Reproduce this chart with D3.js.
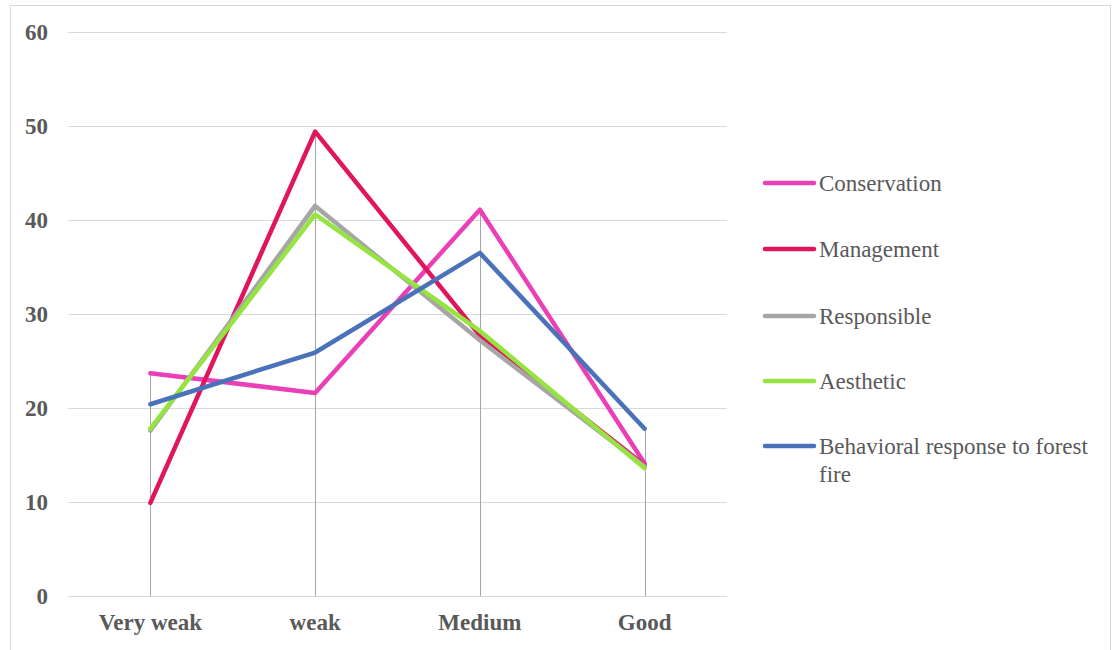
<!DOCTYPE html>
<html>
<head>
<meta charset="utf-8">
<script src="https://cdn.jsdelivr.net/npm/d3@7"></script>
<style>
  html, body { margin: 0; padding: 0; background: #fff; }
  svg { display: block; }
</style>
</head>
<body>
<svg id="chart" width="1112" height="650"></svg>
<script>
// Categories along the x axis
const categories = ["Very weak", "weak", "Medium", "Good"];

// Series values (percent), one array per series
const conservation = [23.7, 21.6, 41.1, 14.1];
const management   = [9.9, 49.4, 27.7, 13.9];
const responsible  = [17.6, 41.5, 27.2, 13.8];
const aesthetic    = [17.8, 40.6, 28.2, 13.6];
const behavioral   = [20.4, 25.9, 36.5, 17.8];

const seriesNames  = ["Conservation", "Management", "Responsible", "Aesthetic", "Behavioral response to forest fire"];
const seriesColors = ["#ea3fb6", "#e0155d", "#a6a6a6", "#95e43f", "#4a72b8"];
const seriesValues = [conservation, management, responsible, aesthetic, behavioral];

const yTicks = [0, 10, 20, 30, 40, 50, 60];

const svg = d3.select("#chart");
const W = 1112, H = 650;
const FONT = "Liberation Serif";

// Outer frame
svg.append("rect")
  .attr("x", 10.5).attr("y", 5.5)
  .attr("width", W - 12).attr("height", H - 4)
  .attr("fill", "#fff").attr("stroke", "#d9d9d9").attr("stroke-width", 1);

const plot = { left: 68, right: 727, top: 32, bottom: 596 };

const x = d3.scaleBand()
  .domain(categories)
  .range([plot.left, plot.right]);

const y = d3.scaleLinear()
  .domain([0, 60])
  .range([plot.bottom, plot.top]);

const cx = c => x(c) + x.bandwidth() / 2;

// Horizontal gridlines
svg.append("g")
  .selectAll("line")
  .data(yTicks)
  .join("line")
  .attr("x1", plot.left).attr("x2", plot.right)
  .attr("y1", d => Math.round(y(d)) + 0.5).attr("y2", d => Math.round(y(d)) + 0.5)
  .attr("stroke", "#d9d9d9").attr("stroke-width", 1);

// Y axis labels
const yAxis = d3.axisLeft(y).tickValues(yTicks).tickSize(0).tickPadding(0);
const yG = svg.append("g")
  .attr("transform", `translate(${plot.left - 20},0)`)
  .call(yAxis)
  .attr("font-family", FONT)
  .attr("font-size", 23);
yG.select(".domain").remove();
yG.selectAll("text")
  .attr("font-weight", "bold")
  .attr("fill", "#595959");

// Drop lines from the highest point in each category down to zero
svg.append("g")
  .selectAll("line")
  .data(categories)
  .join("line")
  .attr("x1", d => Math.round(cx(d)) + 0.5)
  .attr("x2", d => Math.round(cx(d)) + 0.5)
  .attr("y1", y(0))
  .attr("y2", (d, i) => y(d3.max(seriesValues, s => s[i])))
  .attr("stroke", "#a6a6a6").attr("stroke-width", 1);

// X axis labels
const xAxis = d3.axisBottom(x).tickSize(0).tickPadding(0);
const xG = svg.append("g")
  .attr("transform", `translate(0,${plot.bottom + 16})`)
  .call(xAxis)
  .attr("font-family", FONT)
  .attr("font-size", 23);
xG.select(".domain").remove();
xG.selectAll("text")
  .attr("dy", "0.8em")
  .attr("font-weight", "bold")
  .attr("fill", "#595959");

// Series lines
const line = d3.line()
  .x((d, i) => cx(categories[i]))
  .y(d => y(d));

svg.append("g")
  .selectAll("path")
  .data(seriesValues)
  .join("path")
  .attr("d", d => line(d))
  .attr("fill", "none")
  .attr("stroke", (d, i) => seriesColors[i])
  .attr("stroke-width", 4.5)
  .attr("stroke-linejoin", "round")
  .attr("stroke-linecap", "round");

// Legend
const legendY = [183, 249, 316, 381, 446];
const lg = svg.append("g");
seriesNames.forEach((name, i) => {
  const g = lg.append("g").attr("transform", `translate(0,${legendY[i]})`);
  g.append("line")
    .attr("x1", 765).attr("x2", 814)
    .attr("y1", 0).attr("y2", 0)
    .attr("stroke", seriesColors[i]).attr("stroke-width", 4.5)
    .attr("stroke-linecap", "round");
  const t = g.append("text")
    .attr("x", 819).attr("y", 0)
    .attr("dy", "0.33em")
    .attr("font-family", FONT)
    .attr("font-size", 23)
    .attr("fill", "#595959");
  if (name === "Behavioral response to forest fire") {
    t.append("tspan").attr("x", 819).text("Behavioral response to forest");
    t.append("tspan").attr("x", 819).attr("dy", "1.22em").text("fire");
  } else {
    t.text(name);
  }
});
</script>
</body>
</html>
